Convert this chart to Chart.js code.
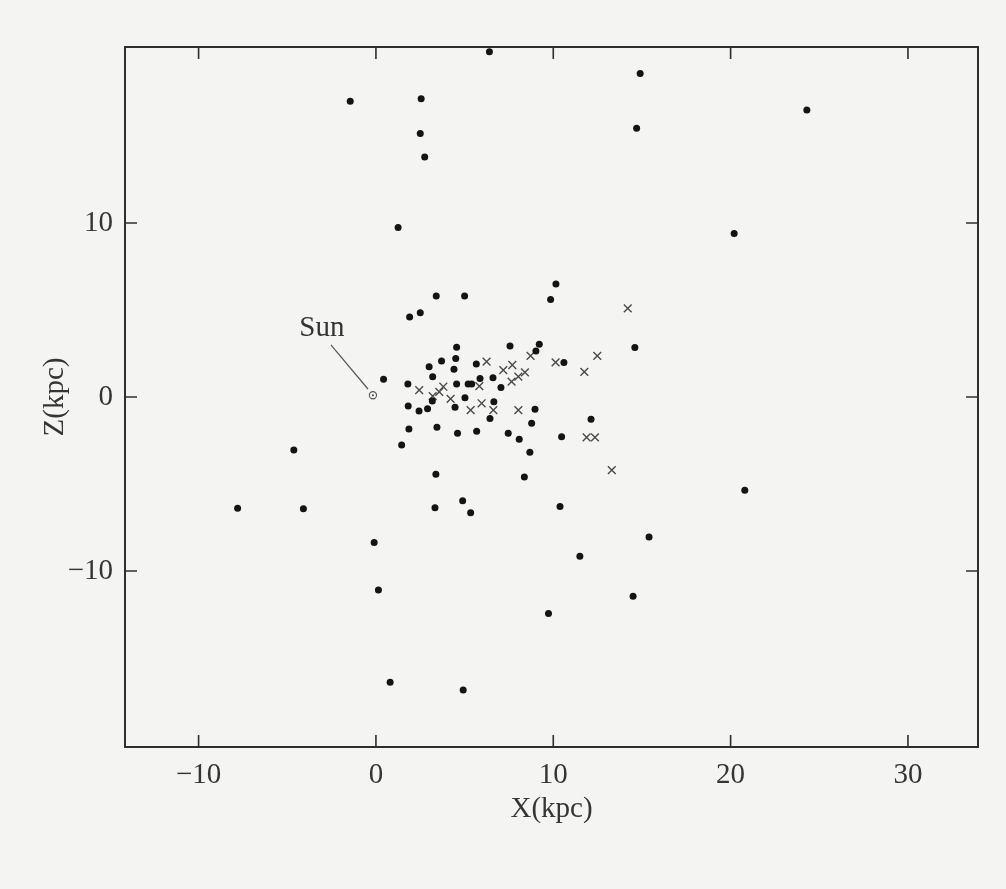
<!DOCTYPE html>
<html>
<head>
<meta charset="utf-8">
<script src="https://cdn.jsdelivr.net/npm/chart.js@4"></script>
<style>
  body { margin: 0; background: #f4f4f2; }
  #wrap { width: 1006px; height: 889px; }
</style>
</head>
<body>
<div id="wrap"><canvas id="chart" width="1006" height="889"></canvas></div>
<script>
// cúmulos globulares, coordenadas en kpc
const puntosCumulos = [
  [6.4, 19.85], [-1.45, 17.0], [2.55, 17.15], [14.9, 18.6], [24.3, 16.5],
  [2.5, 15.15], [2.75, 13.8], [14.7, 15.45], [1.25, 9.75], [20.2, 9.4],
  [1.9, 4.6], [2.5, 4.85], [3.4, 5.8], [5.0, 5.8], [10.15, 6.5], [9.85, 5.6], [14.6, 2.85],
  [0.43, 1.02], [4.55, 2.86], [4.5, 2.22], [3.0, 1.74], [3.7, 2.07], [5.66, 1.9],
  [1.8, 0.75], [3.2, 1.17], [4.4, 1.59], [4.55, 0.75], [5.2, 0.75], [5.4, 0.75],
  [5.87, 1.07], [6.6, 1.1], [3.18, -0.23], [5.02, -0.04], [1.82, -0.52], [2.43, -0.8],
  [2.91, -0.67], [4.46, -0.59], [6.65, -0.27], [6.43, -1.23], [1.86, -1.84],
  [3.44, -1.74], [4.6, -2.09], [5.68, -1.97], [1.45, -2.76],
  [7.56, 2.93], [9.21, 3.03], [9.02, 2.64], [10.6, 1.99], [7.05, 0.54], [8.97, -0.71],
  [8.78, -1.51], [12.13, -1.28], [7.46, -2.09], [8.08, -2.43], [10.47, -2.28], [8.68, -3.18],
  [-4.63, -3.05], [-7.8, -6.4], [-4.09, -6.43], [-0.1, -8.37], [0.14, -11.1],
  [0.8, -16.4], [4.92, -16.85], [9.73, -12.45], [11.5, -9.15], [14.5, -11.45],
  [15.4, -8.05], [20.8, -5.36], [10.38, -6.3], [3.33, -6.36], [4.89, -5.96],
  [5.34, -6.65], [3.38, -4.44], [8.37, -4.6]
]

const puntosCruces = [
  [2.44, 0.4], [3.8, 0.59], [3.57, 0.3], [4.21, -0.11], [3.2, 0.05], [6.24, 2.03],
  [5.83, 0.63], [5.96, -0.36], [5.34, -0.75], [6.62, -0.75], [8.72, 2.36], [10.13, 1.99],
  [12.48, 2.36], [11.75, 1.45], [7.18, 1.55], [7.69, 1.84], [8.4, 1.42], [8.03, 1.17],
  [7.65, 0.88], [8.03, -0.75], [11.88, -2.32], [12.35, -2.32], [13.3, -4.2], [14.2, 5.1]
]

const sol = [-0.17, 0.1]
const etiquetaSol = { texto: 'Sun', x: -3.05, z: 3.97, lineaDesde: [-2.54, 2.99], lineaHasta: [-0.45, 0.46] }

const ticksX = [-10, 0, 10, 20, 30]
const ticksZ = [-10, 0, 10]

const aXY = arr => arr.map(([x, y]) => ({ x, y }))
const fuente = { family: '"Liberation Serif", "DejaVu Serif", serif', size: 29 }
const colorTexto = '#353535'

const marcoYTicks = {
  id: 'marcoYTicks',
  afterDraw(chart) {
    const { ctx, chartArea: a, scales } = chart
    ctx.save()
    ctx.strokeStyle = '#2e2e2e'
    ctx.lineWidth = 2
    ctx.strokeRect(a.left, a.top, a.right - a.left, a.bottom - a.top)
    ctx.lineWidth = 1.6
    ctx.beginPath()
    ticksX.forEach(v => {
      const px = scales.x.getPixelForValue(v)
      ctx.moveTo(px, a.bottom); ctx.lineTo(px, a.bottom - 12)
      ctx.moveTo(px, a.top); ctx.lineTo(px, a.top + 12)
    })
    ticksZ.forEach(v => {
      const py = scales.y.getPixelForValue(v)
      ctx.moveTo(a.left, py); ctx.lineTo(a.left + 12, py)
      ctx.moveTo(a.right, py); ctx.lineTo(a.right - 12, py)
    })
    ctx.stroke()

    // etiqueta del Sol
    const x1 = scales.x.getPixelForValue(etiquetaSol.lineaDesde[0])
    const y1 = scales.y.getPixelForValue(etiquetaSol.lineaDesde[1])
    const x2 = scales.x.getPixelForValue(etiquetaSol.lineaHasta[0])
    const y2 = scales.y.getPixelForValue(etiquetaSol.lineaHasta[1])
    ctx.strokeStyle = '#555'
    ctx.lineWidth = 1.2
    ctx.beginPath()
    ctx.moveTo(x1, y1); ctx.lineTo(x2, y2)
    ctx.stroke()
    ctx.fillStyle = colorTexto
    ctx.font = '29px "Liberation Serif", serif'
    ctx.textAlign = 'center'
    ctx.textBaseline = 'middle'
    ctx.fillText(etiquetaSol.texto, scales.x.getPixelForValue(etiquetaSol.x), scales.y.getPixelForValue(etiquetaSol.z))
    ctx.restore()
  }
}

const ctx = document.getElementById('chart').getContext('2d')

new Chart(ctx, {
  type: 'scatter',
  data: {
    datasets: [
      {
        label: 'cúmulos',
        data: aXY(puntosCumulos),
        pointRadius: 3.5,
        pointBackgroundColor: '#141414',
        pointBorderWidth: 0
      },
      {
        label: 'cruces',
        data: aXY(puntosCruces),
        pointStyle: 'crossRot',
        pointRadius: 5.5,
        pointBorderColor: '#4a4a4a',
        pointBorderWidth: 1.4
      },
      {
        label: 'Sol',
        data: aXY([sol]),
        pointRadius: 3.6,
        pointBackgroundColor: 'rgba(0,0,0,0)',
        pointBorderColor: '#555',
        pointBorderWidth: 1.1
      },
      {
        label: 'Sol centro',
        data: aXY([sol]),
        pointRadius: 1.1,
        pointBackgroundColor: '#555',
        pointBorderWidth: 0
      }
    ]
  },
  options: {
    responsive: false,
    animation: false,
    layout: { padding: { left: 0, top: 47, right: 28, bottom: 0 } },
    plugins: {
      legend: { display: false },
      tooltip: { enabled: false }
    },
    scales: {
      x: {
        type: 'linear',
        min: -14.15,
        max: 33.95,
        afterBuildTicks: s => { s.ticks = ticksX.map(value => ({ value })) },
        afterFit: s => { s.height = 142 },
        grid: { display: false, tickLength: 0 },
        border: { display: false },
        ticks: {
          padding: 11,
          color: colorTexto,
          font: fuente,
          callback: v => String(v).replace('-', '\u2212')
        },
        title: {
          display: true,
          text: 'X(kpc)',
          color: colorTexto,
          font: fuente,
          padding: { top: 0, bottom: 62 }
        }
      },
      y: {
        type: 'linear',
        min: -20.12,
        max: 20.12,
        afterBuildTicks: s => { s.ticks = ticksZ.map(value => ({ value })) },
        afterFit: s => { s.width = 125 },
        grid: { display: false, tickLength: 0 },
        border: { display: false },
        ticks: {
          padding: 12,
          color: colorTexto,
          font: fuente,
          callback: v => String(v).replace('-', '\u2212')
        },
        title: {
          display: true,
          text: 'Z(kpc)',
          color: colorTexto,
          font: fuente,
          padding: { top: 38, bottom: 0 }
        }
      }
    }
  },
  plugins: [marcoYTicks]
})
</script>
</body>
</html>
